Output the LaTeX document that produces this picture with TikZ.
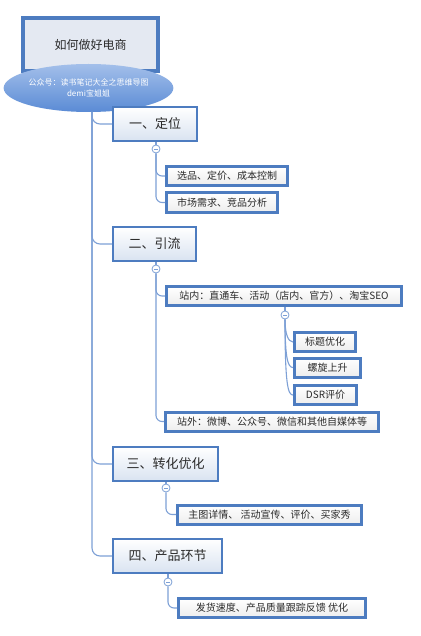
\documentclass[tikz,border=0pt]{standalone}
\usepackage{fontspec}
\setmainfont{Noto Sans CJK SC}
\usetikzlibrary{shapes.geometric}
\definecolor{bd}{HTML}{4D7CC0}
\definecolor{ln}{HTML}{7DA0D6}
\definecolor{txt}{HTML}{2A2A2A}
\definecolor{titlefill}{HTML}{E4E9F2}
\definecolor{lvfill}{HTML}{D9E3F1}
\definecolor{elltop}{HTML}{A3BFEA}
\definecolor{ellbot}{HTML}{5A8BD5}
\tikzset{
  titlebox/.style={draw=bd, line width=4pt, fill=titlefill, inner sep=0pt,
    minimum width=135pt, minimum height=53pt, text=txt,
    font=\fontsize{12}{14}\selectfont},
  ellbox/.style={ellipse, top color=elltop, bottom color=ellbot, draw=none,
    inner sep=0pt, minimum width=147pt, minimum height=48pt, text=white,
    align=center, font=\fontsize{8}{11}\selectfont},
  lvbox/.style={draw=bd, line width=2pt, top color=white, bottom color=lvfill,
    inner sep=0pt, minimum height=34pt, text=txt,
    font=\fontsize{13}{15}\selectfont},
  leafbox/.style={draw=bd, line width=3pt, top color=white, bottom color=white!93!black,
    inner sep=0pt, minimum height=19pt, text=txt,
    font=\fontsize{10}{12}\selectfont},
  fold/.style={circle, draw=ln, line width=0.8pt, fill=white, inner sep=0pt,
    minimum size=8pt,
    path picture={\draw[ln, line width=0.8pt]
      ([xshift=-2pt]path picture bounding box.center) --
      ([xshift=2pt]path picture bounding box.center);}},
  conn/.style={draw=ln, line width=1.1pt},
}
\begin{document}
\begin{tikzpicture}[x=1pt,y=-1pt]
\useasboundingbox[fill=white] (0,0) rectangle (420,636);

% title and ellipse
\node[titlebox] (title) at (90.5,44.5) {如何做好电商};
\node[ellbox] (ell) at (88.5,88) {公众号：读书笔记大全之思维导图\\demi宝姐姐};
\coordinate (trunk) at (92,112);

% level 1
\node[lvbox, minimum width=84pt] (l1) at (155,124) {一、定位};
\node[lvbox, minimum width=83pt] (l2) at (154.5,244) {二、引流};
\node[lvbox, minimum width=105pt] (l3) at (165.5,464) {三、转化优化};
\node[lvbox, minimum width=109pt] (l4) at (167.5,556) {四、产品环节};

% fold markers
\node[fold] (f1) at (156,149) {};
\node[fold] (f2) at (156,269) {};
\node[fold] (f3) at (285,315) {};
\node[fold] (f4) at (166,488) {};
\node[fold] (f5) at (168,582) {};

% leaves
\node[leafbox, minimum width=121pt] (a1) at (227,176) {选品、定价、成本控制};
\node[leafbox, minimum width=111pt] (a2) at (222,202.5) {市场需求、竞品分析};
\node[leafbox, minimum width=235pt] (b1) at (284,296) {站内：直通车、活动（店内、官方）、淘宝SEO};
\node[leafbox, minimum width=61pt] (g1) at (325,342) {标题优化};
\node[leafbox, minimum width=66pt] (g2) at (327.5,367.5) {螺旋上升};
\node[leafbox, minimum width=62pt] (g3) at (325.5,395) {DSR评价};
\node[leafbox, minimum width=213pt] (b2) at (272,421.5) {站外：微博、公众号、微信和其他自媒体等};
\node[leafbox, minimum width=184pt] (c1) at (269.5,514.5) {主图详情、 活动宣传、评价、买家秀};
\node[leafbox, minimum width=187pt] (d1) at (272,608) {发货速度、产品质量跟踪反馈  优化};

% trunk connectors
\draw[conn, rounded corners=8pt] (trunk) |- (l1.west);
\draw[conn, rounded corners=8pt] (trunk) |- (l2.west);
\draw[conn, rounded corners=8pt] (trunk) |- (l3.west);
\draw[conn, rounded corners=8pt] (trunk) |- (l4.west);

% fold links
\draw[conn] (l1.south -| f1) -- (f1);
\draw[conn] (l2.south -| f2) -- (f2);
\draw[conn] (b1.south -| f3) -- (f3);
\draw[conn] (l3.south -| f4) -- (f4);
\draw[conn] (l4.south -| f5) -- (f5);

% child connectors
\draw[conn, rounded corners=6pt] (f1.south) |- (a1.west);
\draw[conn, rounded corners=6pt] (f1.south) |- (a2.west);
\draw[conn, rounded corners=6pt] (f2.south) |- (b1.west);
\draw[conn, rounded corners=6pt] (f2.south) |- (b2.west);
\draw[conn, rounded corners=6pt] (f4.south) |- (c1.west);
\draw[conn, rounded corners=6pt] (f5.south) |- (d1.west);

% grandchild curves
\draw[conn] (f3.south) .. controls +(0,14) and +(-5,0) .. (g1.west);
\draw[conn] (f3.south) .. controls +(0,40) and +(-5,0) .. (g2.west);
\draw[conn] (f3.south) .. controls +(0,66) and +(-5,0) .. (g3.west);
\end{tikzpicture}
\end{document}
